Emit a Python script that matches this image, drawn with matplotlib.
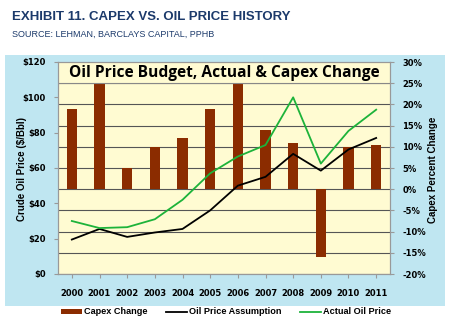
import matplotlib.pyplot as plt
from matplotlib.patches import Rectangle, Patch
from matplotlib.lines import Line2D
import numpy as np

years = ['2000', '2001', '2002', '2003', '2004', '2005',
         '2006', '2007', '2008', '2009', '2010', '2011']
capex_change = [19, 25, 5, 10, 12, 19, 25, 14, 11, -16, 10, 10.5]
oil_assumption = [19.5, 25.5, 21, 23.5, 25.5, 36, 50, 55, 68, 58.5, 70.5, 77]
oil_actual = [30, 26, 26.5, 31, 42, 57, 66.5, 73, 100, 62.5, 81, 93]

navy = '#1c3a6b'
panel = '#bfe6f1'
plotbg = '#fffbd2'
brown = '#8b2c00'
green = '#1db33a'

fig = plt.figure(figsize=(4.5, 3.36), dpi=100)
fig.patch.set_facecolor('white')

# blue panel behind the chart
fig.patches.append(Rectangle((5/450, 1-306/336), 440/450, 251/336,
                             transform=fig.transFigure, facecolor=panel,
                             edgecolor='none', zorder=-5))

fig.text(12/450, 1-17/336, 'EXHIBIT 11. CAPEX VS. OIL PRICE HISTORY',
         fontsize=9.5, fontweight='bold', color=navy, family='Liberation Sans',
         va='center')
fig.text(12/450, 1-34/336, 'SOURCE: LEHMAN, BARCLAYS CAPITAL, PPHB',
         fontsize=6.5, color=navy, family='Liberation Sans', va='center')

ax = fig.add_axes([58/450, 1-274/336, 332/450, 212/336])
ax.set_facecolor(plotbg)
ax2 = ax.twinx()
x = np.arange(len(years))

# bars on right-hand % scale
ax.bar(x, capex_change, width=0.38, color=brown, zorder=2)
ax.set_ylim(-20, 30)
ax.set_yticks(np.arange(-20, 31, 5))
ax.set_yticklabels([f'{v}%' for v in range(-20, 31, 5)])
ax.grid(axis='y', color='#555555', linewidth=0.8, zorder=1)
ax.set_axisbelow(True)
ax.set_xlim(-0.5, len(years) - 0.5)
ax.set_xticks(x)
ax.set_xticklabels(years)

# title box across top of plot
ax.add_patch(Rectangle((-0.5, 25), len(years), 5, facecolor=plotbg,
                       edgecolor='#888888', linewidth=0.8, zorder=3))
ax.text(0.5, 27.4, 'Oil Price Budget, Actual & Capex Change',
        transform=ax.get_yaxis_transform(), ha='center', va='center',
        fontsize=11.2, fontweight='bold', family='Open Sans', zorder=4)

# lines on left-hand $ scale
ax2.plot(x, oil_assumption, color='black', linewidth=1.3, zorder=5)
ax2.plot(x, oil_actual, color=green, linewidth=1.3, zorder=5)
ax2.set_ylim(0, 120)
ax2.set_yticks(np.arange(0, 121, 20))
ax2.set_yticklabels([f'${v}' for v in range(0, 121, 20)])

# swap sides: % scale on the right, $ scale on the left
ax.yaxis.tick_right()
ax2.yaxis.tick_left()
fig.text(22/450, 1-169/336, 'Crude Oil Price ($/Bbl)', rotation=90,
         ha='center', va='center', fontsize=7, fontweight='bold',
         family='Liberation Sans')
fig.text(433/450, 1-170/336, 'Capex Percent Change', rotation=90,
         ha='center', va='center', fontsize=7, fontweight='bold',
         family='Liberation Sans')

for a in (ax, ax2):
    for s in a.spines.values():
        s.set_color('#999999')
        s.set_linewidth(0.8)
    a.tick_params(labelsize=6, length=3, color='#999999', pad=6)
    for lab in a.get_yticklabels() + a.get_xticklabels():
        lab.set_fontweight('bold')
        lab.set_family('Liberation Sans Narrow')
ax.tick_params(axis='x', pad=8)

handles = [Patch(facecolor=brown),
           Line2D([], [], color='black', linewidth=1.3),
           Line2D([], [], color=green, linewidth=1.3)]
labels = ['Capex Change', 'Oil Price Assumption', 'Actual Oil Price']
fig.legend(handles, labels, loc='center', bbox_to_anchor=(226/450, 1-312/336),
           ncol=3, frameon=False, handlelength=2.3, handleheight=0.5,
           columnspacing=2.0, handletextpad=0.2,
           prop={'family': 'Liberation Sans', 'weight': 'bold', 'size': 6.6})

fig.savefig('out.png', dpi=100)
